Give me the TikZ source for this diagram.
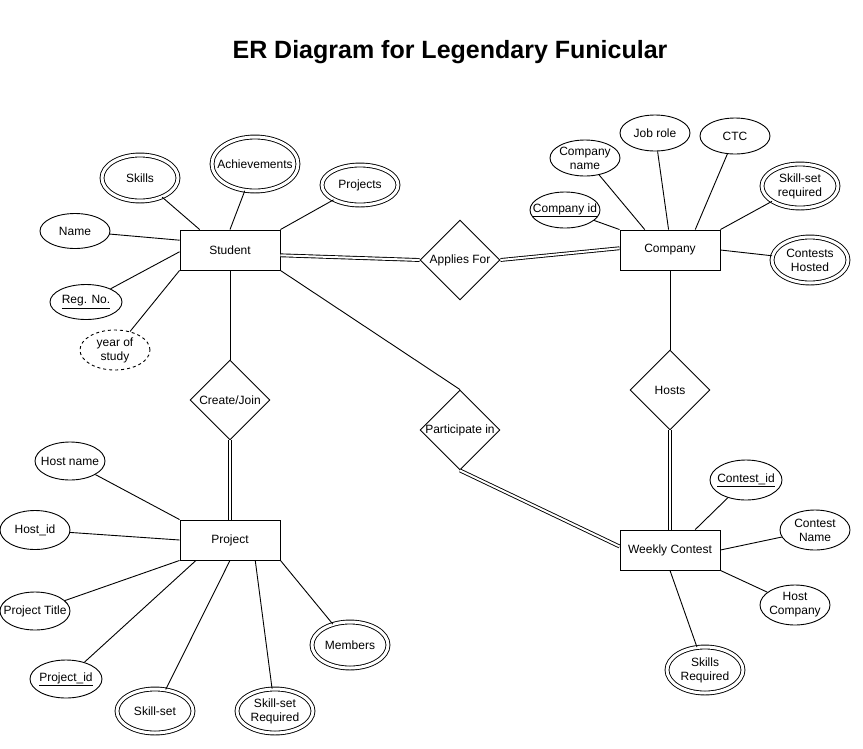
\documentclass[tikz,border=0pt]{standalone}
\usepackage{fontspec}
\setmainfont{Liberation Sans}
\usetikzlibrary{shapes.geometric}
\tikzset{
  entity/.style={draw, rectangle, minimum width=100pt, minimum height=40pt, inner sep=0pt},
  attr/.style={draw, ellipse, minimum width=70pt, minimum height=36pt, inner sep=0pt, inner xsep=-10pt, align=center},
  multi/.style={attr, double, double distance=3pt, minimum width=76pt, minimum height=46pt},
  derived/.style={attr, dashed},
  relation/.style={draw, diamond, minimum width=80pt, minimum height=80pt, inner sep=0pt, inner xsep=-8pt},
  total/.style={double, double distance=2pt},
}
\begin{document}
\begin{tikzpicture}[x=1pt, y=-1pt, line width=0.9pt, font=\fontsize{12}{14}\selectfont]
		\useasboundingbox (0,0) rectangle (863,748);
		\node (title) at (450,52) {\fontsize{25}{30}\selectfont\bfseries ER Diagram for Legendary Funicular};
		% entities and relations
		\node[entity] (student) at (230,250) {Student};
		\node[entity] (company) at (670,250) {Company};
		\node[entity] (project) at (230,540) {Project};
		\node[entity] (weekly) at (670,550) {Weekly Contest};
		\node[relation] (applies) at (460,260) {Applies For};
		\node[relation] (create) at (230,400) {Create/Join};
		\node[relation] (participate) at (460,430) {Participate in};
		\node[relation] (hosts) at (670,390) {Hosts};
		% student attributes
		\node[multi] (skills) at (140,178) {Skills};
		\node[multi, minimum width=86pt, minimum height=54pt] (achieve) at (255,164) {Achievements};
		\node[multi, minimum height=40pt] (projects) at (360,185) {Projects};
		\node[attr, minimum height=35pt] (name) at (75,231) {Name};
		\node[attr, minimum width=72pt, minimum height=35pt] (regno) at (86,302) {\underline{Reg. No.}};
		\node[derived, minimum height=40pt] (yos) at (115,350) {year of\\study};
		% company attributes
		\node[attr] (compid) at (565,210) {\underline{Company id}};
		\node[attr] (compname) at (585,158) {Company\\name};
		\node[attr] (jobrole) at (655,133) {Job role};
		\node[attr] (ctc) at (735,136) {CTC};
		\node[multi, minimum height=44pt] (skillreq) at (800,186) {Skill-set\\required};
		\node[multi] (hosted) at (810,260) {Contests\\Hosted};
		% contest attributes
		\node[attr, minimum width=72pt, minimum height=40pt] (contestid) at (746,480) {\underline{Contest\_id}};
		\node[attr, minimum height=40pt] (contestname) at (815,530) {Contest\\Name};
		\node[attr, minimum height=40pt] (hostcomp) at (795,605) {Host\\Company};
		\node[multi] (skillsreq) at (705,670) {Skills\\Required};
		% project attributes
		\node[attr, minimum height=38pt] (hostname) at (70,461) {Host name};
		\node[attr, minimum height=39pt] (hostid) at (35,530) {Host\_id};
		\node[attr, minimum height=38pt] (ptitle) at (35,611) {Project Title};
		\node[attr, minimum width=72pt, minimum height=38pt] (pid) at (66,679) {\underline{Project\_id}};
		\node[multi, minimum height=44pt] (skillset) at (155,711) {Skill-set};
		\node[multi, minimum height=44pt] (ssreq) at (275,711) {Skill-set\\Required};
		\node[multi] (members) at (350,645) {Members};

		\draw (skills) -- (student.146);
		\draw (achieve) -- (student.north);
		\draw (projects) -- (student.north east);
		\draw (name) -- (student.169);
		\draw (regno) -- (student.182);
		\draw (yos) -- (student.south west);

		\draw (compid) -- (company.north west);
		\draw (compname) -- (company.141);
		\draw (jobrole) -- (company.94);
		\draw (ctc) -- (company.39);
		\draw (skillreq) -- (company.north east);
		\draw (hosted) -- (company.east);

		\draw (contestid) -- (weekly.39);
		\draw (contestname) -- (weekly.east);
		\draw (hostcomp) -- (weekly.south east);
		\draw (skillsreq) -- (weekly.south);

		\draw (hostname) -- (project.north west);
		\draw (hostid) -- (project.west);
		\draw (ptitle) -- (project.south west);
		\draw (pid) -- (project.211);
		\draw (skillset) -- (project.south);
		\draw (ssreq) -- (project.321);
		\draw (members) -- (project.south east);

		\draw[total] (student.354) -- (applies.west);
		\draw[total] (applies.east) -- (company.178);
		\draw (student.south) -- (create.north);
		\draw[total] (create.south) -- (project.north);
		\draw (student.south east) -- (participate.north);
		\draw[total] (participate.south) -- (weekly.176);
		\draw (company.south) -- (hosts.north);
		\draw[total] (hosts.south) -- (weekly.north);
\end{tikzpicture}
\end{document}
